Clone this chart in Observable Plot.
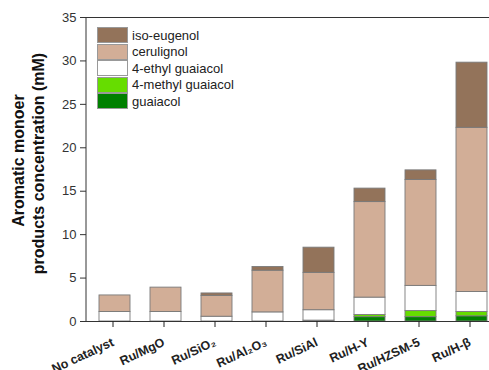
<!DOCTYPE html>
<html>
<head>
<meta charset="utf-8">
<script src="https://cdn.jsdelivr.net/npm/d3@7"></script>
<script src="https://cdn.jsdelivr.net/npm/@observablehq/plot@0.6"></script>
<style>
  body { margin: 0; background: #fff; overflow: hidden; }
  #wrap { position: relative; width: 489px; height: 370px; font-family: "Liberation Sans", Arial, sans-serif; }
  #legend { position: absolute; left: 97px; top: 27px; }
  .row { display: flex; align-items: center; height: 16.5px; font-size: 13px; color: #222; }
  .sw { width: 29px; height: 14px; border: 1px solid #999; margin-right: 4px; box-sizing: content-box; }
</style>
</head>
<body>
<div id="wrap"><div id="legend"></div></div>
<script>
const catalysts = ["No catalyst", "Ru/MgO", "Ru/SiO₂", "Ru/Al₂O₃", "Ru/SiAl", "Ru/H-Y", "Ru/HZSM-5", "Ru/H-β"];
const seriesNames = ["guaiacol", "4-methyl guaiacol", "4-ethyl guaiacol", "cerulignol", "iso-eugenol"];
const seriesColors = ["#008000", "#66dd00", "#ffffff", "#d2ae97", "#93735a"];
const guaiacol   = [0, 0, 0, 0, 0.1, 0.5, 0.5, 0.6];
const methylG    = [0, 0, 0, 0, 0, 0.25, 0.7, 0.5];
const ethylG     = [1.1, 1.1, 0.55, 1.05, 1.2, 2.0, 2.9, 2.3];
const cerulignol = [1.9, 2.8, 2.4, 4.8, 4.3, 11.0, 12.2, 18.9];
const isoEugenol = [0, 0, 0.28, 0.42, 2.9, 1.55, 1.1, 7.5];
const yTicks = [0, 5, 10, 15, 20, 25, 30, 35];
const yLabel = ["Aromatic monoer", "products concentration (mM)"];

const seriesValues = [guaiacol, methylG, ethylG, cerulignol, isoEugenol];
const data = [];
seriesNames.forEach((s, i) => catalysts.forEach((c, j) => data.push({cat: c, series: s, value: seriesValues[i][j]})));

const plot = Plot.plot({
  width: 489,
  height: 370,
  marginLeft: 86,
  marginTop: 17,
  marginBottom: 49,
  marginRight: 0,
  style: {fontFamily: "Liberation Sans, Arial, sans-serif", background: "transparent"},
  x: {domain: catalysts, range: [86, 500], paddingInner: 0.4, paddingOuter: 0.2},
  y: {domain: [0, 35]},
  color: {domain: seriesNames, range: seriesColors},
  marks: [
    Plot.barY(data, {x: "cat", y: "value", fill: "series", order: seriesNames, stroke: "#7a7a7a", strokeWidth: 0.9}),
    Plot.ruleY([0], {stroke: "#333", strokeWidth: 1}),
    Plot.ruleY([35], {stroke: "#333", strokeWidth: 1}),
    Plot.axisY({ticks: yTicks, tickSize: 6, tickPadding: 4, fontSize: 13, color: "#333", label: null}),
    Plot.axisX({tickSize: 6, tickRotate: -25, tickPadding: 14, dx: -2, fontSize: 12.5, fontWeight: "bold", color: "#222", label: null}),
    Plot.text([yLabel[0]], {frameAnchor: "left", textAnchor: "middle", dx: -68, dy: -9, rotate: -90, fontSize: 16, fontWeight: "bold", fill: "#111"}),
    Plot.text([yLabel[1]], {frameAnchor: "left", textAnchor: "middle", dx: -48, dy: -6, rotate: -90, fontSize: 16, fontWeight: "bold", fill: "#111"})
  ]
});
const wrap = document.getElementById("wrap");
wrap.insertBefore(plot, wrap.firstChild);
const svg = d3.select(plot);
svg.append("line").attr("x1", 86).attr("x2", 86).attr("y1", 17).attr("y2", 321).attr("stroke", "#333");

const legend = document.getElementById("legend");
[...seriesNames].reverse().forEach((s) => {
  const i = seriesNames.indexOf(s);
  const row = document.createElement("div");
  row.className = "row";
  row.innerHTML = `<div class="sw" style="background:${seriesColors[i]}"></div><span>${s}</span>`;
  legend.appendChild(row);
});
</script>
</body>
</html>
